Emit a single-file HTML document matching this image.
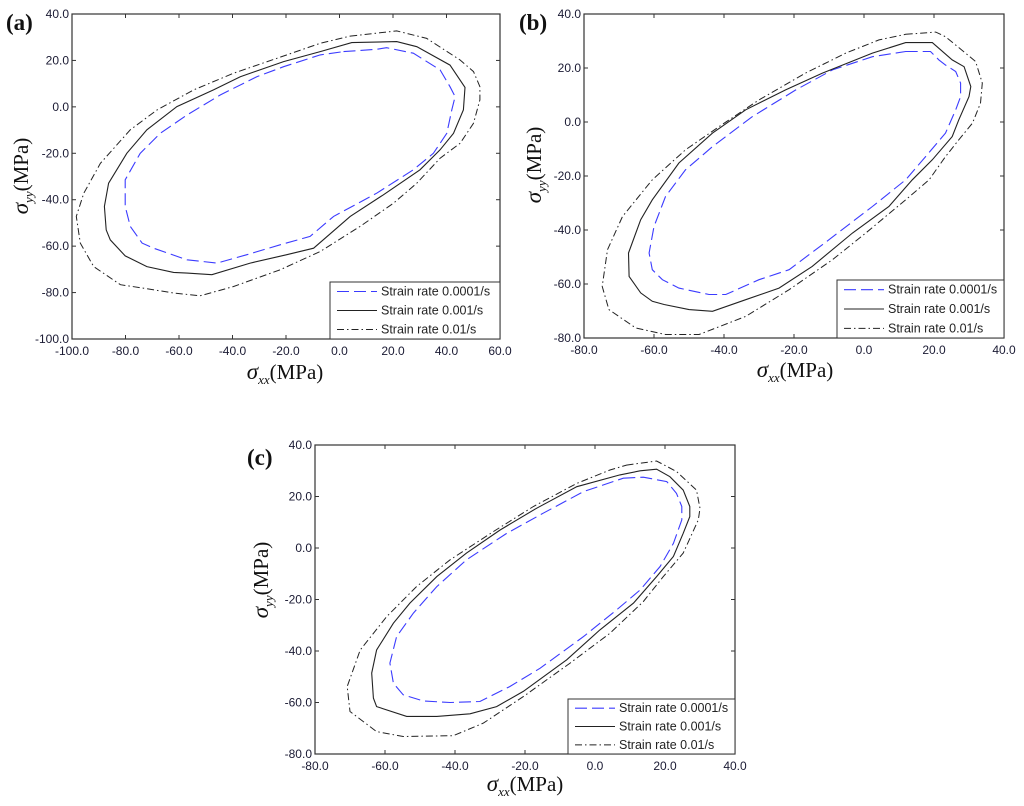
<!DOCTYPE html>
<html><head><meta charset="utf-8">
<style>
html,body{margin:0;padding:0;background:#fff;}
svg{display:block;}
.tk{font-family:"Liberation Sans",sans-serif;font-size:12px;fill:#1a1a33;}
.lg{font-family:"Liberation Sans",sans-serif;font-size:12.5px;fill:#222;}
.ti{font-family:"Liberation Serif",serif;font-size:21px;fill:#111;}
.pl{font-family:"Liberation Serif",serif;font-size:23px;font-weight:bold;fill:#111;}
</style></head>
<body>
<svg id="chart" width="1024" height="806" viewBox="0 0 1024 806" xmlns="http://www.w3.org/2000/svg"></svg>
<script>
// Panel (a) data
const aSlowX=[1.5,13.9,17.6,27.6,37.6,41.3,43.2,42.0,40.1,35.1,27.6,13.9,-2.2,-11.0,-22.2,-34.6,-45.8,-57.0,-69.5,-73.8,-78.2,-80.1,-80.1,-74.5,-67.0,-57.0,-44.6,-30.9,-20.9,-7.2];
const aSlowY=[23.8,24.8,25.5,23.1,15.9,8.7,4.4,-1.3,-11.4,-20.0,-27.1,-37.2,-47.2,-55.8,-59.4,-63.7,-67.3,-65.9,-60.9,-58.7,-51.5,-42.9,-31.4,-20.0,-11.4,-3.5,5.1,13.0,17.3,22.4];
const aMidX=[4.6,21.4,28.9,41.3,46.9,46.3,42.6,37.6,30.1,16.4,4.0,-9.7,-19.7,-33.4,-47.7,-57.0,-62.0,-72.0,-80.1,-85.7,-87.2,-87.9,-86.3,-79.5,-72.0,-60.8,-47.1,-37.1,-20.9,-7.2];
const aMidY=[27.7,28.1,25.9,18.0,8.4,-1.3,-11.4,-18.5,-27.1,-37.9,-47.2,-60.9,-63.7,-67.3,-72.3,-71.6,-71.3,-68.8,-64.2,-57.3,-53.0,-42.9,-32.9,-20.0,-9.9,0.1,7.3,13.0,19.5,23.8];
const aFastX=[4.0,21.4,32.6,45.1,50.1,52.5,52.5,50.1,45.1,37.6,28.9,20.2,7.7,-7.2,-22.2,-39.6,-52.1,-62.0,-73.2,-81.9,-91.9,-96.9,-98.4,-95.6,-89.4,-78.2,-68.2,-54.5,-39.6,-23.4,-7.2];
const aFastY=[30.5,32.7,29.5,20.2,15.2,8.7,3.0,-7.1,-15.7,-22.1,-32.9,-41.5,-51.5,-62.3,-70.2,-77.4,-81.4,-80.2,-78.1,-76.6,-68.8,-58.7,-47.2,-37.2,-24.3,-9.9,-1.3,7.3,14.5,20.9,27.4];
// Panel (b) data
const bSlowX=[11.9,19.0,21.4,23.3,26.2,27.6,27.6,26.2,23.3,17.6,11.9,2.4,-10.0,-21.4,-30.0,-39.5,-44.3,-52.9,-57.6,-60.5,-61.4,-60.0,-56.7,-51.0,-43.3,-31.9,-19.5,-9.0,2.4];
const bSlowY=[26.1,26.1,23.0,21.1,18.7,14.4,9.4,4.5,-4.1,-12.8,-21.4,-31.3,-43.6,-54.7,-58.4,-63.9,-63.9,-61.5,-58.4,-54.7,-48.5,-38.7,-27.6,-17.7,-9.1,2.0,11.9,19.3,24.2];
const bMidX=[11.9,19.5,25.2,28.6,30.5,30.0,27.1,25.2,19.5,13.8,7.1,-3.3,-14.8,-24.3,-33.8,-43.3,-50.0,-57.1,-60.5,-63.8,-67.1,-67.3,-63.8,-60.5,-52.9,-43.3,-33.8,-22.4,-11.9,2.4];
const bMidY=[29.4,29.4,23.0,20.5,13.1,9.4,0.8,-5.4,-14.0,-21.4,-31.3,-41.1,-53.5,-61.5,-65.8,-70.1,-69.5,-67.6,-66.4,-63.3,-57.2,-48.5,-36.2,-28.8,-15.2,-4.1,4.5,11.9,18.1,25.5];
const bFastX=[11.9,20.5,23.3,29.0,31.9,33.8,33.3,31.0,27.1,23.3,18.6,11.9,0.5,-9.0,-21.4,-33.8,-47.1,-56.7,-65.2,-72.9,-74.8,-73.3,-69.0,-60.5,-51.0,-41.4,-30.0,-16.7,-5.2,4.3];
const bFastY=[32.5,33.3,31.6,25.5,22.4,14.4,7.0,-0.4,-6.6,-12.8,-21.4,-28.8,-41.1,-51.0,-62.1,-72.0,-78.7,-78.7,-76.3,-69.5,-60.9,-47.3,-35.0,-21.4,-10.3,-1.7,8.2,18.1,25.5,30.4];
// Panel (c) data
const cSlowX=[8.1,13.8,20.5,23.3,24.8,24.8,22.4,18.6,12.9,6.2,-3.3,-15.7,-24.3,-32.9,-41.4,-49.0,-54.8,-57.6,-58.6,-56.7,-51.9,-45.2,-36.7,-25.2,-14.8,-3.3];
const cSlowY=[27.1,27.5,25.8,21.2,16.1,10.9,1.8,-7.2,-16.3,-24.0,-34.4,-46.7,-53.8,-59.6,-60.0,-59.4,-57.0,-52.5,-44.7,-34.4,-25.3,-15.0,-4.6,5.7,13.5,21.9];
const cMidX=[7.1,12.9,17.6,21.4,25.2,27.1,27.1,25.2,22.4,17.6,11.0,1.4,-8.1,-20.5,-28.1,-35.7,-45.2,-53.8,-62.4,-63.3,-63.8,-62.4,-57.6,-52.9,-45.2,-36.7,-27.1,-16.7,-5.2];
const cMidY=[28.4,30.0,30.6,27.7,22.5,16.1,12.2,5.7,-3.3,-11.1,-21.4,-31.8,-43.4,-55.7,-61.6,-64.4,-65.4,-65.4,-61.6,-58.3,-48.6,-39.6,-29.2,-21.4,-11.1,-2.0,7.0,15.4,23.8];
const cFastX=[9.0,17.6,23.3,29.0,30.0,29.5,25.2,19.5,13.8,4.3,-7.1,-20.5,-31.9,-40.5,-54.8,-62.4,-70.0,-70.8,-67.1,-59.5,-51.0,-41.4,-29.0,-17.6,-5.2,4.3];
const cFastY=[32.2,33.8,29.7,22.5,15.4,10.9,-2.0,-11.1,-20.8,-33.1,-44.7,-57.7,-68.0,-72.9,-73.2,-71.3,-63.5,-53.8,-39.6,-26.6,-15.0,-4.6,6.4,16.1,25.1,30.3];
// Tick labels
const ticksA_X=[-100,-80,-60,-40,-20,0,20,40,60];
const ticksA_Y=[40,20,0,-20,-40,-60,-80,-100];
const ticksBC_X=[-80,-60,-40,-20,0,20,40];
const ticksBC_Y=[40,20,0,-20,-40,-60,-80];
const legendLabels=["Strain rate 0.0001/s","Strain rate 0.001/s","Strain rate 0.01/s"];

const NS="http://www.w3.org/2000/svg";
const svg=document.getElementById('chart');
function mk(tag,attrs,parent){const e=document.createElementNS(NS,tag);for(const k in attrs)e.setAttribute(k,attrs[k]);(parent||svg).appendChild(e);return e;}

const styles=[{stroke:'#3b3bff',dash:'12,5',w:1.1},{stroke:'#222',dash:'none',w:1.1},{stroke:'#222',dash:'7,3,1.5,3',w:1.0}];

function panel(id,box,xr,yr,xt,yt,series,leg,label,ytitle,xtitle){
  const g=mk('g',{});
  
  
  const sx=v=>box.l+(v-xr[0])/(xr[1]-xr[0])*(box.r-box.l);
  const sy=v=>box.t+(yr[1]-v)/(yr[1]-yr[0])*(box.b-box.t);
  series.forEach((s,i)=>{
    const pts=s[0].map((x,j)=>sx(x).toFixed(1)+','+sy(s[1][j]).toFixed(1)).join(' ');
    const p=mk('polygon',{points:pts,fill:'none',stroke:styles[i].stroke,'stroke-width':styles[i].w,'stroke-dasharray':styles[i].dash},g);
    
    
  });
  const fr=mk('rect',{x:box.l,y:box.t,width:box.r-box.l,height:box.b-box.t,fill:'none',stroke:'#333','stroke-width':1.2},g);
  
  
  xt.forEach(v=>{
    const x=sx(v);
    mk('line',{x1:x,y1:box.b,x2:x,y2:box.b-4,stroke:'#333'},g);
    mk('line',{x1:x,y1:box.t,x2:x,y2:box.t+4,stroke:'#333'},g);
    const t=mk('text',{x:x,y:box.b+16,'text-anchor':'middle',class:'tk'},g);
    t.textContent=v.toFixed(1);
    
    
  });
  yt.forEach(v=>{
    const y=sy(v);
    mk('line',{x1:box.l,y1:y,x2:box.l+4,y2:y,stroke:'#333'},g);
    mk('line',{x1:box.r,y1:y,x2:box.r-4,y2:y,stroke:'#333'},g);
    const t=mk('text',{x:box.l-3,y:y+4,'text-anchor':'end',class:'tk'},g);
    t.textContent=v.toFixed(1);
    
    
  });
  const lg=mk('g',{},g);
  
  
  mk('rect',{x:leg.l,y:leg.t,width:box.r-leg.l,height:box.b-leg.t,fill:'#fff',stroke:'#333','stroke-width':1},lg);
  const rh=(box.b-leg.t)/3;
  legendLabels.forEach((L,i)=>{
    const y=leg.t+rh*(i+0.5);
    const e=mk('g',{},lg);
    
    
    mk('line',{x1:leg.l+7,y1:y,x2:leg.l+47,y2:y,stroke:styles[i].stroke,'stroke-width':styles[i].w,'stroke-dasharray':styles[i].dash},e);
    const t=mk('text',{x:leg.l+51,y:y+4,class:'lg'},e);
    t.textContent=L;
  });
  const pl=mk('text',{x:label[0],y:label[1],class:'pl'},g);
  pl.textContent=label[2];
  
  
  const yti=mk('text',{x:0,y:0,class:'ti','text-anchor':'middle',transform:'translate('+ytitle[0]+','+ytitle[1]+') rotate(-90)'},g);
  yti.innerHTML='<tspan font-style="italic" font-size="23">σ</tspan><tspan font-style="italic" font-size="13" dy="5">yy</tspan><tspan dy="-5">(MPa)</tspan>';
  
  
  const xti=mk('text',{x:xtitle[0],y:xtitle[1],class:'ti','text-anchor':'middle'},g);
  xti.innerHTML='<tspan font-style="italic" font-size="23">σ</tspan><tspan font-style="italic" font-size="13" dy="5">xx</tspan><tspan dy="-5">(MPa)</tspan>';
  
  
}

panel('a',{l:72,r:500,t:14,b:339},[-100,60],[-100,40],ticksA_X,ticksA_Y,
  [[aSlowX,aSlowY],[aMidX,aMidY],[aFastX,aFastY]],{l:330,t:282},[6,30,'(a)'],[28,176],[285,379]);
panel('b',{l:584,r:1004,t:14,b:338},[-80,40],[-80,40],ticksBC_X,ticksBC_Y,
  [[bSlowX,bSlowY],[bMidX,bMidY],[bFastX,bFastY]],{l:837,t:280},[519,30,'(b)'],[541,165],[795,377]);
panel('c',{l:315,r:735,t:445,b:754},[-80,40],[-80,40],ticksBC_X,ticksBC_Y,
  [[cSlowX,cSlowY],[cMidX,cMidY],[cFastX,cFastY]],{l:568,t:699},[247,465,'(c)'],[268,580],[525,791]);
</script>
</body></html>
